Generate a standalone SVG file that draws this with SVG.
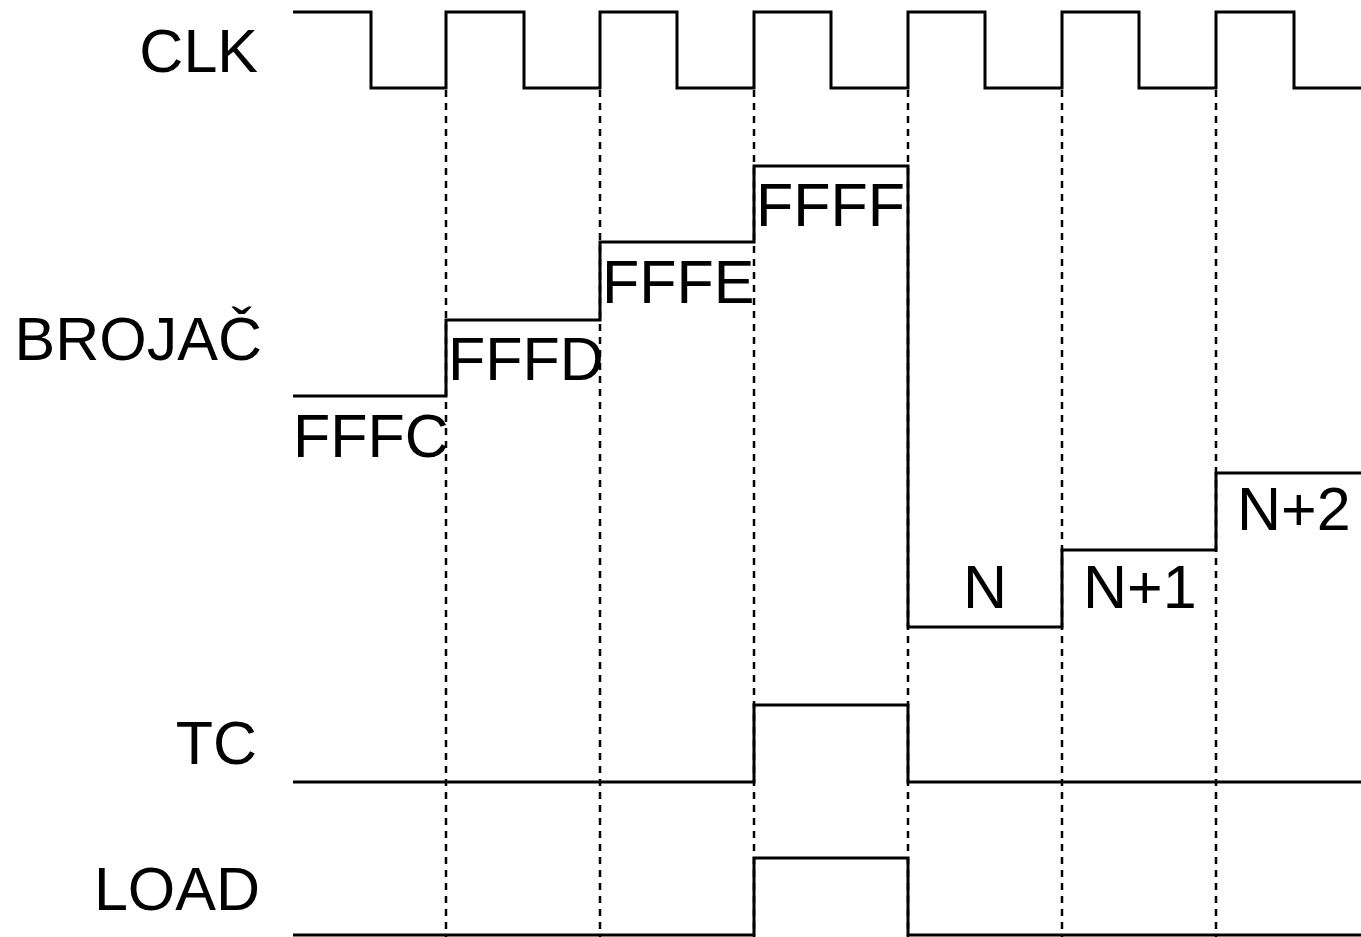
<svg xmlns="http://www.w3.org/2000/svg" width="1361" height="937" viewBox="0 0 1361 937">
<style>
.sig{fill:none;stroke:#000;stroke-width:3;stroke-linejoin:miter}
.grid{fill:none;stroke:#000;stroke-width:2.5;stroke-dasharray:7,6}
text{font-family:"Liberation Sans",Arial,sans-serif;font-size:61px;fill:#000}
.r{text-anchor:end}
</style>
<rect width="1361" height="937" fill="#fff"/>
<g id="connectors">
<path class="grid" d="M446,90V937M600,90V937M754,90V937M908,90V937M1062,90V937M1216,90V937"/>
</g>
<g id="clk">
<text class="r" x="258" y="72">CLK</text>
<path class="sig" d="M293,12H371V88H446V12H524V88H600V12H677V88H754V12H831V88H908V12H985V88H1062V12H1139V88H1216V12H1294V88H1361"/>
</g>
<g id="brojac">
<text class="r" x="262" y="360">BROJAČ</text>
<path class="sig" d="M293,396H446V320H600V242H754V166H908V627H1062V550H1216V473H1361"/>
<text x="293" y="457">FFFC</text>
<text x="448" y="380">FFFD</text>
<text x="602" y="303">FFFE</text>
<text x="756" y="226">FFFF</text>
<text x="985" y="608" text-anchor="middle">N</text>
<text x="1083" y="608">N+1</text>
<text x="1237" y="530">N+2</text>
</g>
<g id="tc">
<text class="r" x="257" y="764">TC</text>
<path class="sig" d="M293,782H754V705H908V782H1361"/>
</g>
<g id="load">
<text class="r" x="260" y="910">LOAD</text>
<path class="sig" d="M293,935H754V858H908V935H1361"/>
</g>
</svg>
